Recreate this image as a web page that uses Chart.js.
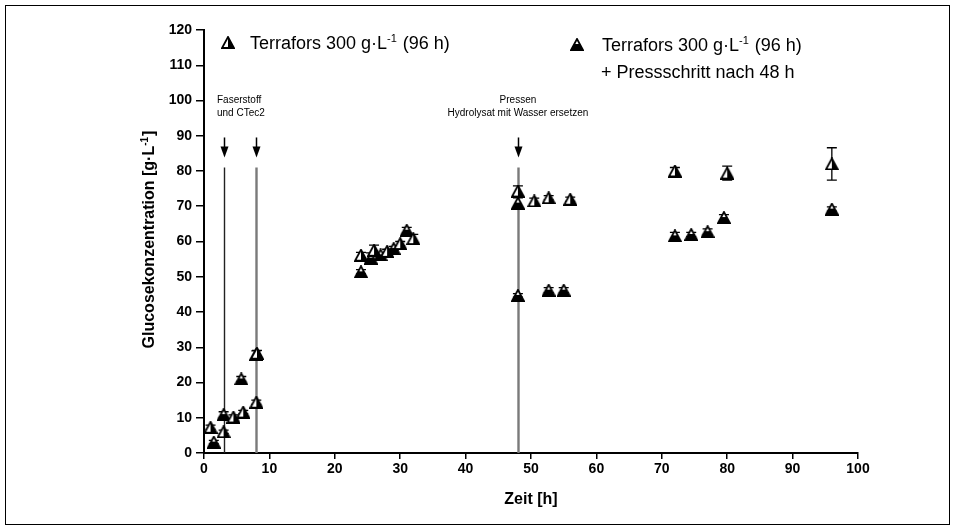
<!DOCTYPE html>
<html>
<head>
<meta charset="utf-8">
<script src="https://cdn.jsdelivr.net/npm/chart.js@4.4.0/dist/chart.umd.min.js"></script>
<style>
  html, body { margin: 0; padding: 0; background: #fff; }
  #wrap { width: 959px; height: 530px; position: relative; }
</style>
</head>
<body>
<div id="wrap"><canvas id="chart" width="959" height="530"></canvas></div>
<script>
// Terrafors 300 g/L, 96 h
const timeA = [1, 3, 4.5, 6, 8, 8.1, 24, 26, 28, 30, 32, 48, 50.5, 52.7, 56, 72, 80, 96];
const glucA = [7.3, 6, 10.2, 11.6, 14.4, 28.3, 56.1, 57.5, 57.2, 59.4, 60.8, 74.3, 71.5, 72.4, 72, 80, 79.4, 82];
const errA  = [0.6, 0.5, 0.6, 0.5, 0.6, 0.8, 0.8, 1.5, 0.6, 0.6, 1.2, 1.5, 0.8, 0.6, 0.6, 1, 2, 4.6];

// Terrafors 300 g/L, 96 h + Pressschritt nach 48 h
const timeB = [1.5, 3, 5.7, 8, 24, 25.5, 27, 29, 31, 48, 48, 52.7, 55, 72, 74.5, 77, 79.5, 96];
const glucB = [3.1, 10.9, 21, 28, 51.4, 55.3, 56.2, 58, 63.2, 70.9, 44.7, 46.2, 46.2, 61.6, 62, 62.8, 66.8, 69.2];
const errB  = [0.5, 0.8, 0.7, 1, 0.6, 1.5, 0.6, 0.6, 0.8, 1.5, 0.5, 0.7, 0.7, 1, 0.6, 0.8, 0.8, 0.6];

// events (vertical lines with arrows)
const eventTimes = [3, 8, 48];
const eventTop = 81;

const xTicks = { min: 0, max: 100, step: 10 };
const yTicks = { min: 0, max: 120, step: 10 };

const NARROW = "'Liberation Sans Narrow', 'Liberation Sans', Arial, sans-serif";
const SANS = "'Liberation Sans', Arial, sans-serif";

function makeTriangle(kind) {
  const c = document.createElement('canvas');
  c.width = 14; c.height = 13;
  const g = c.getContext('2d');
  const tri = () => { g.beginPath(); g.moveTo(7, 1); g.lineTo(13, 12); g.lineTo(1, 12); g.closePath(); };
  tri(); g.fillStyle = '#fff'; g.fill();
  g.save(); tri(); g.clip();
  g.fillStyle = '#000';
  if (kind === 'A') g.fillRect(7, 0, 8, 13);
  else g.fillRect(0, 6, 14, 7);
  g.restore();
  tri(); g.lineWidth = 1.8; g.strokeStyle = '#000'; g.stroke();
  return c;
}
const markA = makeTriangle('A');
const markB = makeTriangle('B');

function toPoints(xs, ys) { return xs.map((t, i) => ({ x: t, y: ys[i] })); }

function drawSupText(ctx, x, y, before, sup, after, size, font) {
  ctx.font = size + 'px ' + font;
  ctx.fillText(before, x, y);
  let w = ctx.measureText(before).width;
  ctx.font = Math.round(size * 0.6) + 'px ' + font;
  ctx.fillText(sup, x + w, y - size * 0.4);
  w += ctx.measureText(sup).width + 1;
  ctx.font = size + 'px ' + font;
  ctx.fillText(after, x + w, y);
}

const overlay = {
  id: 'overlay',
  beforeDatasetsDraw(chart) {
    const { ctx, scales: { x, y } } = chart;
    ctx.save();
    // event lines
    const lineW = [1.4, 2.4, 2.4];
    const lineC = ['#222', '#7a7a7a', '#7a7a7a'];
    eventTimes.forEach((t, i) => {
      const px = Math.round(x.getPixelForValue(t)) + 0.5;
      ctx.strokeStyle = lineC[i];
      ctx.lineWidth = lineW[i];
      ctx.beginPath();
      ctx.moveTo(px, y.getPixelForValue(0));
      ctx.lineTo(px, y.getPixelForValue(eventTop));
      ctx.stroke();
      // arrow
      const top = y.getPixelForValue(eventTop) - 30;
      const tip = y.getPixelForValue(eventTop) - 10;
      ctx.strokeStyle = '#000';
      ctx.lineWidth = 1.5;
      ctx.beginPath(); ctx.moveTo(px, top); ctx.lineTo(px, tip - 8); ctx.stroke();
      ctx.fillStyle = '#000';
      ctx.beginPath(); ctx.moveTo(px - 4, tip - 11); ctx.lineTo(px + 4, tip - 11); ctx.lineTo(px, tip); ctx.closePath(); ctx.fill();
    });
    // error bars
    ctx.strokeStyle = '#000';
    ctx.lineWidth = 1.3;
    const bars = (xs, ys, es) => xs.forEach((t, i) => {
      const px = x.getPixelForValue(t);
      const hi = y.getPixelForValue(ys[i] + es[i]);
      const lo = y.getPixelForValue(ys[i] - es[i]);
      ctx.beginPath();
      ctx.moveTo(px, hi); ctx.lineTo(px, lo);
      ctx.moveTo(px - 5, hi); ctx.lineTo(px + 5, hi);
      ctx.moveTo(px - 5, lo); ctx.lineTo(px + 5, lo);
      ctx.stroke();
    });
    bars(timeA, glucA, errA);
    bars(timeB, glucB, errB);
    ctx.restore();
  },
  afterDraw(chart) {
    const { ctx, scales: { x, y } } = chart;
    ctx.save();
    ctx.fillStyle = '#000';
    ctx.textBaseline = 'alphabetic';
    // legend
    ctx.drawImage(markA, 221, 36);
    drawSupText(ctx, 250, 49, 'Terrafors 300 g\u00b7L', '-1', ' (96 h)', 18, SANS);
    ctx.drawImage(markB, 570, 38);
    drawSupText(ctx, 602, 51, 'Terrafors 300 g\u00b7L', '-1', ' (96 h)', 18, SANS);
    ctx.font = '18px ' + SANS;
    ctx.fillText('+ Pressschritt nach 48 h', 601, 78);

    // annotations
    ctx.font = '10px ' + NARROW;
    ctx.textAlign = 'left';
    ctx.fillText('Faserstoff', 217, 103);
    ctx.fillText('und CTec2', 217, 116);
    ctx.textAlign = 'center';
    const p48 = x.getPixelForValue(48);
    ctx.fillText('Pressen', p48, 103);
    ctx.fillText('Hydrolysat mit Wasser ersetzen', p48, 116);

    // axis titles
    ctx.font = 'bold 16px ' + NARROW;
    ctx.textAlign = 'center';
    ctx.fillText('Zeit [h]', (x.left + x.right) / 2, 504);
    ctx.save();
    ctx.translate(154, (y.top + y.bottom) / 2 - 2);
    ctx.rotate(-Math.PI / 2);
    ctx.textAlign = 'left';
    const t1 = 'Glucosekonzentration [g\u00b7L';
    ctx.font = 'bold 16px ' + NARROW;
    const w1 = ctx.measureText(t1).width;
    ctx.font = 'bold 10px ' + NARROW;
    const w2 = ctx.measureText('-1').width;
    ctx.font = 'bold 16px ' + NARROW;
    const w3 = ctx.measureText(']').width;
    const start = -(w1 + w2 + w3 + 1) / 2;
    ctx.fillText(t1, start, 0);
    ctx.font = 'bold 10px ' + NARROW;
    ctx.fillText('-1', start + w1, -6);
    ctx.font = 'bold 16px ' + NARROW;
    ctx.fillText(']', start + w1 + w2 + 1, 0);
    ctx.restore();

    // outer frame
    ctx.strokeStyle = '#000';
    ctx.lineWidth = 1;
    ctx.strokeRect(5.5, 5.5, 944, 519);
    ctx.restore();
  }
};

new Chart(document.getElementById('chart'), {
  type: 'scatter',
  data: {
    datasets: [
      { label: 'Terrafors 300 g·L-1 (96 h)', data: toPoints(timeA, glucA), pointStyle: markA, pointRadius: 7, pointHoverRadius: 7 },
      { label: 'Terrafors 300 g·L-1 (96 h) + Pressschritt nach 48 h', data: toPoints(timeB, glucB), pointStyle: markB, pointRadius: 7, pointHoverRadius: 7 }
    ]
  },
  options: {
    responsive: false,
    animation: false,
    layout: { padding: { left: 124, right: 101, top: 30, bottom: 2 } },
    plugins: { legend: { display: false }, tooltip: { enabled: false } },
    scales: {
      x: {
        type: 'linear', min: xTicks.min, max: xTicks.max,
        afterFit: s => { s.height = 75; },
        border: { display: true, color: '#000', width: 2 },
        grid: { drawOnChartArea: false, drawTicks: true, tickLength: 6, color: '#000', lineWidth: 1.5 },
        ticks: { stepSize: xTicks.step, color: '#000', padding: 2, maxRotation: 0, font: { family: NARROW, size: 14, weight: 'bold' } }
      },
      y: {
        type: 'linear', min: yTicks.min, max: yTicks.max,
        afterFit: s => { s.width = 80; },
        border: { display: true, color: '#000', width: 2 },
        grid: { drawOnChartArea: false, drawTicks: true, tickLength: 8, color: '#000', lineWidth: 1.5 },
        ticks: { stepSize: yTicks.step, color: '#000', padding: 4, font: { family: NARROW, size: 14, weight: 'bold' } }
      }
    }
  },
  plugins: [overlay]
});
</script>
</body>
</html>
